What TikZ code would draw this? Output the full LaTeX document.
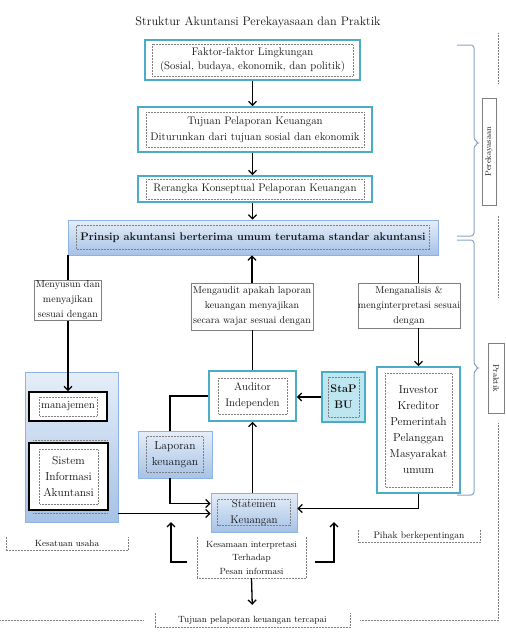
\documentclass[tikz,border=0pt]{standalone}
\usetikzlibrary{arrows.meta,calc}
\definecolor{teal5}{HTML}{4BACC6}
\definecolor{bluebd}{HTML}{8DB3E2}
\definecolor{bluetop}{HTML}{E6EEF8}
\definecolor{bluebot}{HTML}{A6C2E6}
\definecolor{bracec}{HTML}{8AA4C6}
\definecolor{frameg}{HTML}{7F7F7F}
\definecolor{stapfill}{HTML}{BDE6F0}
\definecolor{txtc}{HTML}{111111}
\tikzset{
  base/.style={align=center, inner sep=0pt, text=txtc, font=\fontsize{11}{16}\selectfont},
  tealbox/.style={base, draw=teal5, line width=1.6pt, fill=white},
  bluebox/.style={base, draw=bluebd, line width=0.8pt, top color=bluetop, bottom color=bluebot},
  blackbox/.style={base, draw=black, line width=1.6pt, fill=white},
  labbox/.style={base, draw=frameg, line width=0.5pt, fill=white, font=\fontsize{10}{15}\selectfont},
  plain/.style={base, font=\fontsize{9}{13.5}\selectfont},
  inner/.style={draw=frameg, densely dotted, line width=0.5pt},
  frameline/.style={draw=frameg, densely dotted, line width=0.5pt},
  arr/.style={line width=1.3pt, -{Straight Barb[length=4pt,width=8pt]}},
  ln/.style={line width=1.3pt},
  bracel/.style={draw=bracec, line width=1pt, rounded corners=3pt},
}
\newcommand\dotin[3]{\draw[inner] ($(#1.north west)+(#2,-#3)$) rectangle ($(#1.south east)+(-#2,#3)$);}
\newcommand\ubox[1]{\draw[inner] (#1.north west) -- (#1.south west) -- (#1.south east) -- (#1.north east);}
\begin{document}
\begin{tikzpicture}[x=1pt,y=1pt]
\useasboundingbox (0,0) rectangle (506,-640);
% title
\node[base, font=\fontsize{12.3}{14}\selectfont] (title) at (258,-22) {Struktur Akuntansi Perekayasaan dan Praktik};
% top chain
\node[tealbox, minimum width=215pt, minimum height=40pt, font=\fontsize{11}{14.5}\selectfont] (b1) at (252.5,-60) {Faktor-faktor Lingkungan\\(Sosial, budaya, ekonomik, dan politik)};
\dotin{b1}{8}{5}
\node[tealbox, minimum width=234pt, minimum height=45pt] (b2) at (255,-129.5) {Tujuan Pelaporan Keuangan\\Diturunkan dari tujuan sosial dan ekonomik};
\dotin{b2}{9}{6}
\node[tealbox, minimum width=234pt, minimum height=26pt] (b3) at (255,-189) {Rerangka Konseptual Pelaporan Keuangan};
\dotin{b3}{9}{4}
\node[bluebox, minimum width=370pt, minimum height=35pt] (b4) at (253,-237.5) {\textbf{Prinsip akuntansi berterima umum terutama standar akuntansi}};
\dotin{b4}{9}{6}
\draw[arr] (b1.south) -- (b1.south |- b2.north);
\draw[arr] (b2.south -| b1.south) -- (b3.north -| b1.south);
\draw[arr] (b3.south -| b1.south) -- (b4.north -| b1.south);
% left group
\node[bluebox, minimum width=93pt, minimum height=150pt] (kes) at (71.5,-447) {};
\node[blackbox, minimum width=78pt, minimum height=29pt] (man) at (68,-406.5) {manajemen};
\dotin{man}{11}{6}
\node[blackbox, minimum width=79pt, minimum height=67pt, font=\fontsize{11.5}{16}\selectfont] (sia) at (68.5,-476.5) {Sistem\\Informasi\\Akuntansi};
\dotin{sia}{11}{7}
\draw[inner] (33,-440) -- (107,-440);
\draw[inner] (33,-513) -- (107,-513);
\draw[arr] (man.north |- b4.south) -- (man.north);
\node[labbox, minimum width=67pt, minimum height=40pt] (l1) at (68,-300) {Menyusun dan\\menyajikan\\sesuai dengan};
% middle
\node[labbox, minimum width=122pt, minimum height=47pt] (l2) at (252,-306.5) {Mengaudit apakah laporan\\keuangan menyajikan\\secara wajar sesuai dengan};
\node[tealbox, minimum width=87pt, minimum height=50pt] (aud) at (252.5,-396) {Auditor\\Independen};
\dotin{aud}{10}{8}
\draw[arr] (l2.north) -- (l2.north |- b4.south);
\draw[ln] (aud.north) -- (aud.north |- l2.south);
\node[tealbox, fill=stapfill, minimum width=43pt, minimum height=50pt, font=\fontsize{11}{16}\selectfont\bfseries] (stap) at (343.5,-397) {StaP\\BU};
\dotin{stap}{7}{6}
\draw[arr] (stap.west) -- (stap.west -| aud.east);
\node[bluebox, minimum width=74pt, minimum height=47pt, font=\fontsize{11.5}{16}\selectfont] (lap) at (175,-454.5) {Laporan\\keuangan};
\dotin{lap}{9}{6}
\node[bluebox, minimum width=86pt, minimum height=39pt] (stat) at (254,-512.5) {Statemen\\Keuangan};
\dotin{stat}{7}{7}
\draw[ln] ([xshift=-5pt]lap.north) |- (aud.west);
\draw[arr] ([xshift=-5pt]lap.south) |- ([yshift=9pt]stat.west);
\draw[arr] ([yshift=-1pt]stat.west -| kes.east) -- ([yshift=-1pt]stat.west);
\draw[arr] (aud.south |- stat.north) -- (aud.south);
% right
\node[labbox, minimum width=102pt, minimum height=45pt] (l3) at (409,-305.5) {Menganalisis \&\\menginterpretasi sesuai\\dengan};
\node[tealbox, minimum width=83pt, minimum height=126pt, font=\fontsize{11.5}{16}\selectfont] (inv) at (418.5,-430) {Investor\\Kreditor\\Pemerintah\\Pelanggan\\Masyarakat\\umum};
\dotin{inv}{9}{7}
\draw[ln] (inv.north |- b4.south) -- (inv.north |- l3.north);
\draw[arr] (inv.north |- l3.south) -- (inv.north);
\draw[arr] (inv.south) |- ([yshift=4pt]stat.east);
% bottom labels
\node[plain, font=\fontsize{9.5}{13.5}\selectfont, minimum width=122pt, minimum height=12pt] (pih) at (419,-536) {Pihak berkepentingan};
\ubox{pih}
\node[plain, minimum width=122pt, minimum height=13pt] (ku) at (67,-543.5) {Kesatuan usaha};
\ubox{ku}
\node[plain, minimum width=109pt, minimum height=41pt] (ksm) at (251.5,-557.5) {Kesamaan interpretasi\\Terhadap\\Pesan informasi};
\ubox{ksm}
\node[plain, minimum width=195pt, minimum height=14pt] (tuj) at (252.5,-620) {Tujuan pelaporan keuangan tercapai};
\ubox{tuj}
\coordinate (kl1) at (187,-562);
\coordinate (kl2) at (171,-522);
\coordinate (kr1) at (315,-562);
\coordinate (kr2) at (334,-522);
\draw[arr] (kl1) -| (kl2);
\draw[arr] (kr1) -| (kr2);
\draw[arr, shorten >=8pt] (ksm.south) -- (tuj.north);
% outer dotted frame
\draw[frameline] (0,-620) -- (143,-620);
\draw[frameline] (360,-620) -- (498,-620) -- (498,-423);
\draw[frameline] (498,-297) -- (498,-215);
\draw[frameline] (498,-83) -- (498,-32);
% braces
\draw[bracel] (457,-45) -- (474,-45) -- (474,-140) -- (479,-143) -- (474,-146) -- (474,-236) -- (457,-236);
\draw[bracel] (457,-240) -- (474,-240) -- (474,-365) -- (479,-368) -- (474,-371) -- (474,-495) -- (457,-495);
% side labels
\node[base, draw=frameg, line width=0.5pt, rotate=90, minimum width=107pt, minimum height=14pt, font=\fontsize{8}{10}\selectfont] (per) at (489,-151.5) {Perekayasaan};
\node[base, draw=frameg, line width=0.5pt, rotate=-90, minimum width=70pt, minimum height=16pt, font=\fontsize{8}{10}\selectfont] (pra) at (496,-378) {Praktik};
\end{tikzpicture}
\end{document}
